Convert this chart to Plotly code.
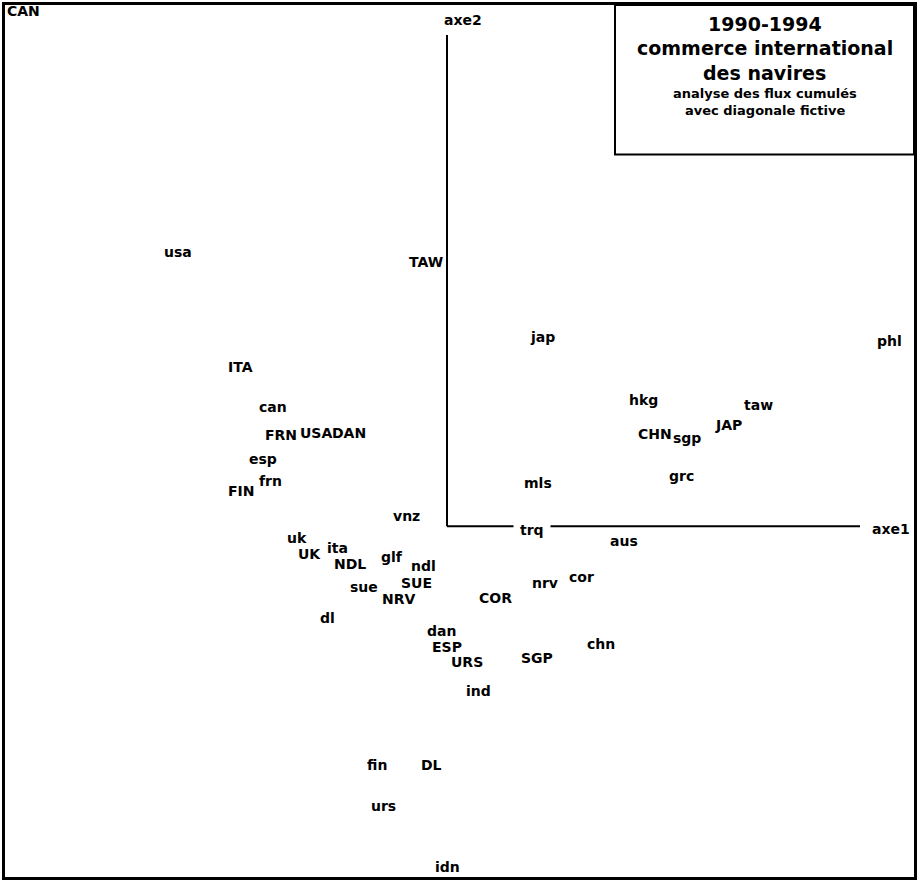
import plotly.graph_objects as go

# Factor coordinates (axe1, axe2)
labels = ["CAN", "usa", "TAW", "ITA", "jap", "phl", "can", "FRN", "USA", "DAN",
          "esp", "frn", "FIN", "hkg", "taw", "CHN", "sgp", "JAP", "grc", "mls",
          "vnz", "trq", "aus", "uk", "UK", "ita", "NDL", "glf", "ndl", "sue",
          "SUE", "NRV", "COR", "nrv", "cor", "dl", "dan", "ESP", "URS", "SGP",
          "chn", "ind", "fin", "DL", "urs", "idn"]
axe1 = [-4.24, -2.69, -0.21, -2.07, 0.95, 4.42, -1.74, -1.66, -1.31, -0.98,
        -1.84, -1.77, -2.06, 1.96, 3.11, 2.08, 2.40, 2.81, 2.34, 0.91,
        -0.41, 0.85, 1.77, -1.50, -1.38, -1.10, -0.97, -0.55, -0.24, -0.83,
        -0.31, -0.49, 0.48, 0.98, 1.34, -1.20, -0.06, 0.00, 0.20, 0.90,
        1.54, 0.31, -0.70, -0.16, -0.64, 0.00]
axe2 = [5.17, 2.75, 2.65, 1.60, 1.90, 1.86, 1.20, 0.92, 0.94, 0.94,
        0.67, 0.45, 0.35, 1.27, 1.22, 0.93, 0.89, 1.02, 0.50, 0.43,
        0.10, -0.04, -0.15, -0.12, -0.28, -0.22, -0.38, -0.31, -0.40, -0.61,
        -0.57, -0.73, -0.72, -0.57, -0.51, -0.92, -1.05, -1.21, -1.36, -1.32,
        -1.18, -1.65, -2.40, -2.40, -2.81, -3.42]

title_lines = ["1990-1994", "commerce international", "des navires"]
subtitle_lines = ["analyse des flux cumulés", "avec diagonale fictive"]

X_RANGE = [-4.42, 4.67]
Y_RANGE = [-3.52, 5.23]
AXE1_END = 4.13
AXE2_END = 4.93
BOX_LEFT = 1.68
BOX_BOTTOM = 3.73

FONT = "DejaVu Sans"

fig = go.Figure()

# factorial axes
fig.add_trace(go.Scatter(x=[0, AXE1_END], y=[0, 0], mode="lines",
                         line=dict(color="black", width=2), hoverinfo="skip"))
fig.add_trace(go.Scatter(x=[0, 0], y=[0, AXE2_END], mode="lines",
                         line=dict(color="black", width=2), hoverinfo="skip"))

lab_font = dict(family=FONT, size=14, color="black", weight="bold")
annotations = []
for lab, x, y in zip(labels, axe1, axe2):
    on_axis = abs(y) < 0.08 and x > 0.2
    annotations.append(dict(
        x=x, y=y, xref="x", yref="y", text=lab, showarrow=False, font=lab_font,
        bgcolor="white" if on_axis else None, borderpad=6 if on_axis else 0,
        xanchor="center", yanchor="middle"))

annotations.append(dict(x=4.44, y=-0.03, xref="x", yref="y", text="axe1",
                        showarrow=False, font=lab_font))
annotations.append(dict(x=0.16, y=5.08, xref="x", yref="y", text="axe2",
                        showarrow=False, font=lab_font))

# title box
box_cx = (BOX_LEFT + X_RANGE[1]) / 2
fig.add_shape(type="rect", xref="x", yref="y", x0=BOX_LEFT, x1=X_RANGE[1],
              y0=BOX_BOTTOM, y1=Y_RANGE[1], line=dict(color="black", width=2),
              fillcolor="white")
title_y = [5.04, 4.795, 4.55]
for t, ty in zip(title_lines, title_y):
    annotations.append(dict(x=box_cx, y=ty, xref="x", yref="y", text=t, showarrow=False,
                            font=dict(family=FONT, size=19, color="black", weight="bold")))
sub_y = [4.34, 4.17]
for t, ty in zip(subtitle_lines, sub_y):
    annotations.append(dict(x=box_cx, y=ty, xref="x", yref="y", text=t, showarrow=False,
                            font=dict(family=FONT, size=13, color="black", weight="bold")))

axis_style = dict(showgrid=False, zeroline=False, showticklabels=False, ticks="",
                  showline=True, mirror=True, linecolor="black", linewidth=3)
fig.update_layout(
    width=922, height=880,
    margin=dict(l=5, r=8, t=2, b=3),
    paper_bgcolor="white", plot_bgcolor="white",
    showlegend=False,
    xaxis=dict(range=X_RANGE, **axis_style),
    yaxis=dict(range=Y_RANGE, **axis_style),
    annotations=annotations,
)

fig.write_html("out.html", config={"displayModeBar": False},
               post_script="document.body.style.margin='0';")
